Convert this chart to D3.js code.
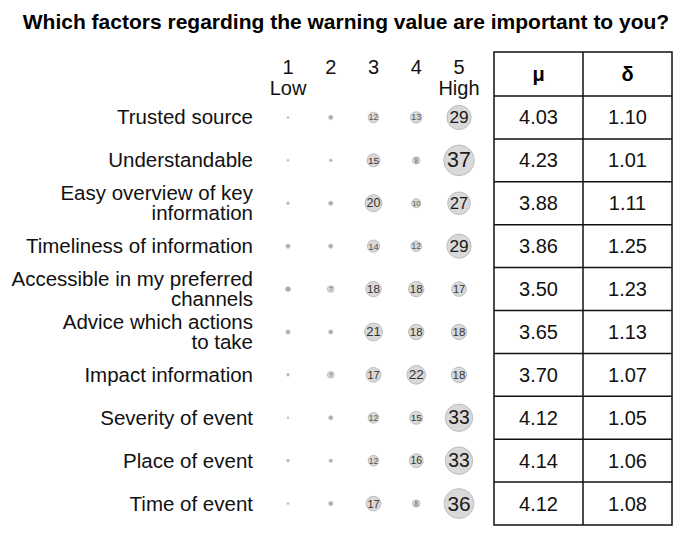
<!DOCTYPE html>
<html>
<head>
<meta charset="utf-8">
<script src="https://cdn.jsdelivr.net/npm/d3@7/dist/d3.min.js"></script>
<style>
  html, body { margin: 0; padding: 0; background: #fff; }
  svg { display: block; font-family: Arial, "Liberation Sans", sans-serif; }
</style>
</head>
<body>
<svg id="chart" width="686" height="534"></svg>
<script>
const title = "Which factors regarding the warning value are important to you?";
const categories = [
  ["Trusted source"],
  ["Understandable"],
  ["Easy overview of key", "information"],
  ["Timeliness of information"],
  ["Accessible in my preferred", "channels"],
  ["Advice which actions", "to take"],
  ["Impact information"],
  ["Severity of event"],
  ["Place of event"],
  ["Time of event"]
];
const scaleLevels = [1, 2, 3, 4, 5];
const scaleLabels = [["1", "Low"], ["2"], ["3"], ["4"], ["5", "High"]];
// counts per rating level 1..5 for each category
const counts = [
  [1, 4, 12, 13, 29],
  [1, 2, 15, 8, 37],
  [2, 4, 20, 10, 27],
  [4, 4, 14, 12, 29],
  [5, 7, 18, 18, 17],
  [4, 4, 21, 18, 18],
  [2, 7, 17, 22, 18],
  [1, 4, 12, 15, 33],
  [2, 3, 12, 16, 33],
  [1, 4, 17, 8, 36]
];
const statHeaders = ["μ", "δ"];
const means = ["4.03", "4.23", "3.88", "3.86", "3.50", "3.65", "3.70", "4.12", "4.14", "4.12"];
const sds = ["1.10", "1.01", "1.11", "1.25", "1.23", "1.13", "1.07", "1.05", "1.06", "1.08"];

const svg = d3.select("#chart");
const W = 686, H = 534;
svg.append("rect").attr("width", W).attr("height", H).attr("fill", "#fff");

const catKeys = categories.map((c, i) => i);
const y = d3.scaleBand().domain(catKeys).range([96, 525]);
const x = d3.scalePoint().domain(scaleLevels).range([288, 459]);
const r = d3.scaleLinear().domain([0, 37]).range([0.5, 15.3]);
const tableX = d3.scaleBand().domain(statHeaders).range([494, 672]);

// Title
svg.append("text")
  .attr("x", 346).attr("y", 29)
  .attr("text-anchor", "middle")
  .attr("font-size", 21).attr("font-weight", "bold")
  .attr("fill", "#000")
  .text(title);

// Column headers
scaleLevels.forEach((lv, i) => {
  const t = svg.append("text")
    .attr("x", x(lv)).attr("y", 74)
    .attr("text-anchor", "middle")
    .attr("font-size", 20).attr("fill", "#111");
  scaleLabels[i].forEach((s, j) => {
    t.append("tspan").attr("x", x(lv)).attr("dy", j === 0 ? 0 : 21).text(s);
  });
});

// Category labels
categories.forEach((lines, i) => {
  const cy = y(i) + y.bandwidth() / 2;
  const n = lines.length;
  const t = svg.append("text")
    .attr("text-anchor", "end")
    .attr("font-size", 20.5).attr("fill", "#111");
  lines.forEach((s, j) => {
    t.append("tspan")
      .attr("x", 253)
      .attr("y", cy + 7 + (j - (n - 1) / 2) * 20)
      .text(s);
  });
});

// Bubbles
const cells = [];
counts.forEach((row, i) => row.forEach((v, j) => cells.push({ i, lv: scaleLevels[j], v })));
const g = svg.append("g");
g.selectAll("circle").data(cells).join("circle")
  .attr("cx", d => x(d.lv))
  .attr("cy", d => y(d.i) + y.bandwidth() / 2)
  .attr("r", d => r(d.v))
  .attr("fill", d => d.v < 7 ? "#aaaaaa" : "#d9d9d9")
  .attr("stroke", d => d.v < 7 ? "#c8c8c8" : "#bdbdbd")
  .attr("stroke-width", 1);
g.selectAll("text").data(cells.filter(d => d.v >= 7)).join("text")
  .attr("x", d => x(d.lv))
  .attr("y", d => y(d.i) + y.bandwidth() / 2)
  .attr("text-anchor", "middle")
  .attr("dominant-baseline", "central")
  .attr("font-size", d => 1.3 * r(d.v) + 1.5)
  .attr("fill", d => d.v >= 25 ? "#1a1a1a" : d.v >= 15 ? "#333" : "#555")
  .text(d => d.v);

// Table
const tg = svg.append("g");
const tTop = 52, tBottom = 525;
const hdrBottom = 96;
tg.append("rect")
  .attr("x", tableX.range()[0]).attr("y", tTop)
  .attr("width", tableX.range()[1] - tableX.range()[0])
  .attr("height", tBottom - tTop)
  .attr("fill", "none").attr("stroke", "#111").attr("stroke-width", 1.5);
tg.append("line")
  .attr("x1", tableX("δ")).attr("x2", tableX("δ"))
  .attr("y1", tTop).attr("y2", tBottom)
  .attr("stroke", "#111").attr("stroke-width", 1.5);
tg.append("line")
  .attr("x1", tableX.range()[0]).attr("x2", tableX.range()[1])
  .attr("y1", hdrBottom).attr("y2", hdrBottom)
  .attr("stroke", "#111").attr("stroke-width", 1.5);
catKeys.slice(1).forEach(k => {
  tg.append("line")
    .attr("x1", tableX.range()[0]).attr("x2", tableX.range()[1])
    .attr("y1", y(k)).attr("y2", y(k))
    .attr("stroke", "#111").attr("stroke-width", 1.5);
});
statHeaders.forEach(h => {
  tg.append("text")
    .attr("x", tableX(h) + tableX.bandwidth() / 2)
    .attr("y", (tTop + hdrBottom) / 2 + 7)
    .attr("text-anchor", "middle")
    .attr("font-size", 20).attr("font-weight", "bold")
    .text(h);
});
[means, sds].forEach((arr, c) => {
  arr.forEach((v, i) => {
    tg.append("text")
      .attr("x", tableX(statHeaders[c]) + tableX.bandwidth() / 2)
      .attr("y", y(i) + y.bandwidth() / 2 + 7)
      .attr("text-anchor", "middle")
      .attr("font-size", 20).attr("fill", "#111")
      .text(v);
  });
});
</script>
</body>
</html>
